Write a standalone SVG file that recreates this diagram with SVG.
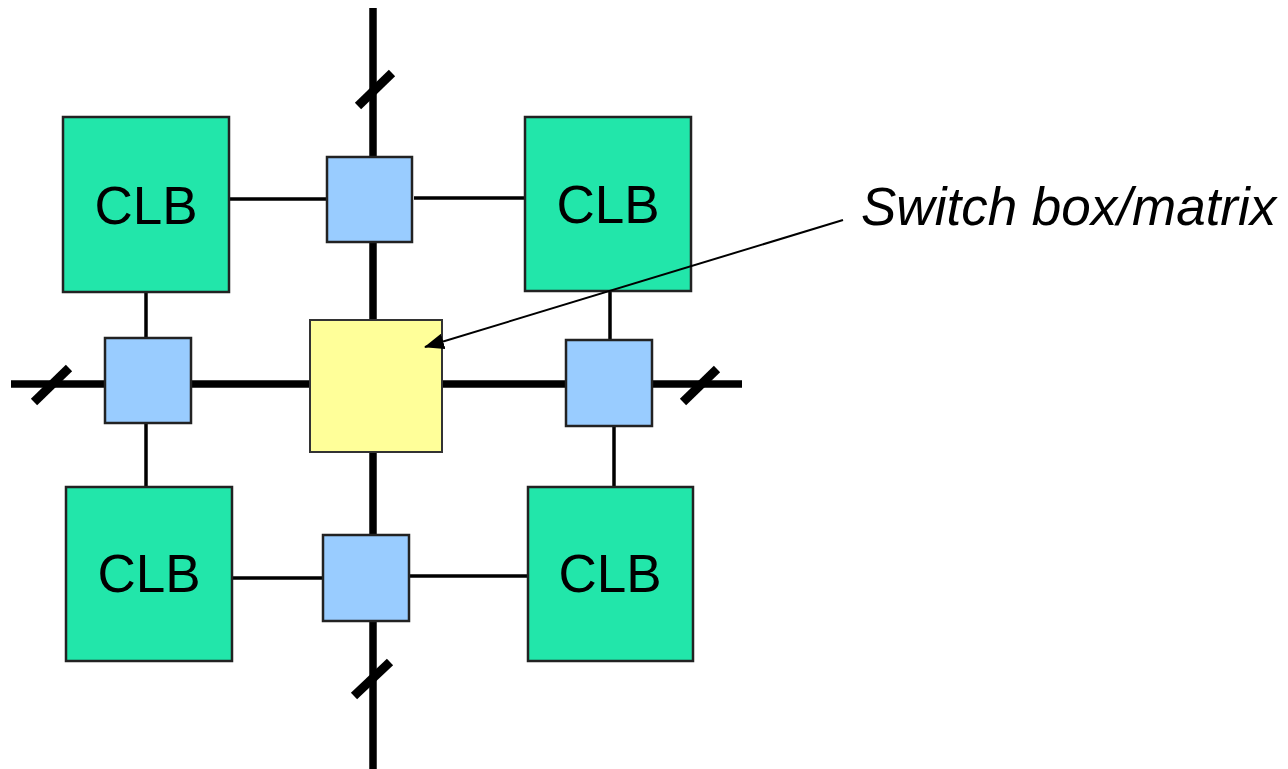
<svg xmlns="http://www.w3.org/2000/svg" width="1288" height="769" viewBox="0 0 1288 769">
<style>
.clb{fill:#22E6AA;stroke:#222;stroke-width:2.5}
.sb{fill:#99CCFF;stroke:#222;stroke-width:2.5}
.sm{fill:#FFFF99;stroke:#333;stroke-width:2}
.bus{stroke:#000;stroke-width:7.5;fill:none}
.sl{stroke:#000;stroke-width:9;fill:none}
.w{stroke:#000;stroke-width:3.5;fill:none}
.lbl{font-family:"Liberation Sans",Arial,sans-serif;font-size:53px;fill:#000;text-anchor:middle}
.cap{font-family:"Liberation Sans",Arial,sans-serif;font-size:53px;font-style:italic;fill:#000}
</style>
<defs>
<marker id="ah" markerWidth="20" markerHeight="16" refX="19" refY="8" orient="auto" markerUnits="userSpaceOnUse">
<path d="M0,0 L20,8 L0,16 Z" fill="#000"/>
</marker>
</defs>
<g id="connectors">
<line class="bus" x1="373" y1="8" x2="373" y2="769"/>
<line class="bus" x1="11" y1="384" x2="742" y2="384"/>
<line class="sl" x1="358" y1="106" x2="392" y2="73"/>
<line class="sl" x1="34" y1="402" x2="69" y2="368"/>
<line class="sl" x1="683" y1="402" x2="717" y2="369"/>
<line class="sl" x1="354" y1="696" x2="390" y2="662"/>
<line class="w" x1="229" y1="199" x2="327" y2="199"/>
<line class="w" x1="414" y1="198" x2="525" y2="198"/>
<line class="w" x1="146" y1="292" x2="146" y2="338"/>
<line class="w" x1="146" y1="423" x2="146" y2="487"/>
<line class="w" x1="610" y1="291" x2="610" y2="340"/>
<line class="w" x1="614" y1="426" x2="614" y2="487"/>
<line class="w" x1="232" y1="578" x2="328" y2="578"/>
<line class="w" x1="410" y1="576" x2="528" y2="576"/>
</g>
<g id="sb-top"><rect class="sb" x="327" y="157" width="85" height="85"/></g>
<g id="sb-left"><rect class="sb" x="105" y="338" width="86" height="85"/></g>
<g id="sb-right"><rect class="sb" x="566" y="340" width="86" height="86"/></g>
<g id="sb-bottom"><rect class="sb" x="323" y="535" width="86" height="86"/></g>
<g id="switch-matrix"><rect class="sm" x="310" y="320" width="132" height="132"/></g>
<g id="clb-tl"><rect class="clb" x="63" y="117" width="166" height="175"/><text class="lbl" x="146" y="224">CLB</text></g>
<g id="clb-tr"><rect class="clb" x="525" y="117" width="166" height="174"/><text class="lbl" x="608" y="223">CLB</text></g>
<g id="clb-bl"><rect class="clb" x="66" y="487" width="166" height="174"/><text class="lbl" x="149" y="592">CLB</text></g>
<g id="clb-br"><rect class="clb" x="528" y="487" width="165" height="174"/><text class="lbl" x="610" y="592">CLB</text></g>
<g id="annotation">
<line x1="843" y1="220" x2="425" y2="347" stroke="#000" stroke-width="2" marker-end="url(#ah)"/>
<text class="cap" x="861" y="225">Switch box/matrix</text>
</g>
</svg>
